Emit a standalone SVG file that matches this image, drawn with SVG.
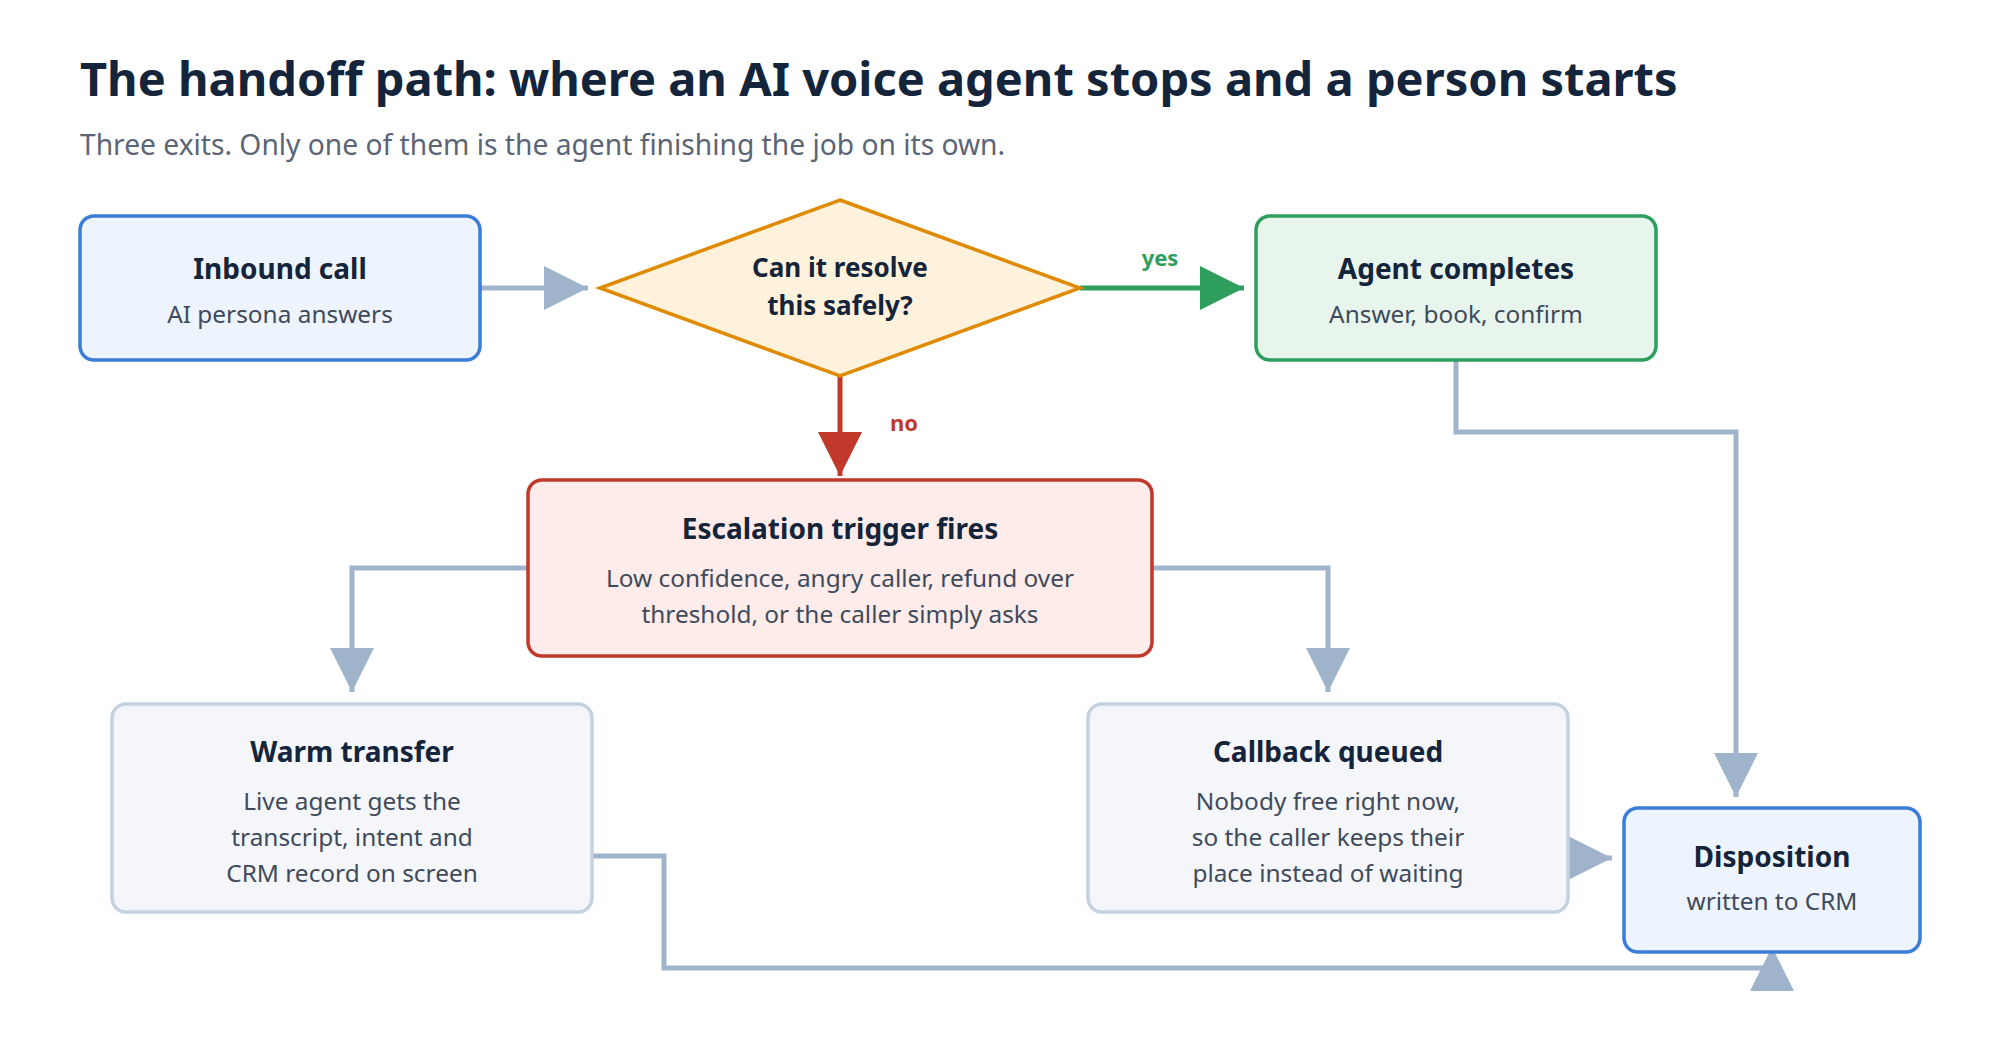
<svg xmlns="http://www.w3.org/2000/svg" width="2000" height="1040" viewBox="0 0 2000 1040">
<defs>
<style>
text{font-family:"Noto Sans","Open Sans","DejaVu Sans",sans-serif}
.h1{font-size:47px;font-weight:700;fill:#13243b}
.sub{font-size:28.2px;fill:#5b6575}
.t{font-size:28px;font-weight:700;fill:#13243b;text-anchor:middle}
.d{font-size:24.4px;fill:#3f4a5b;text-anchor:middle}
.lbl{font-size:22px;font-weight:700;text-anchor:middle}
.blue{fill:#eef4fd;stroke:#3b7dd8;stroke-width:3.5}
.green{fill:#e8f5ec;stroke:#2e9e5e;stroke-width:3.5}
.red{fill:#fdecea;stroke:#c0392b;stroke-width:3.5}
.grey{fill:#f4f6fa;stroke:#c5d1df;stroke-width:3.5}
.c{fill:none;stroke:#9fb3cb;stroke-width:5}
</style>
<marker id="ag" viewBox="0 0 44 44" refX="44" refY="22" markerWidth="44" markerHeight="44" markerUnits="userSpaceOnUse" orient="auto"><path d="M0,0 L44,22 L0,44 z" fill="#9fb3cb"/></marker>
<marker id="agr" viewBox="0 0 44 44" refX="44" refY="22" markerWidth="44" markerHeight="44" markerUnits="userSpaceOnUse" orient="auto"><path d="M0,0 L44,22 L0,44 z" fill="#2e9e5e"/></marker>
<marker id="ar" viewBox="0 0 44 44" refX="44" refY="22" markerWidth="44" markerHeight="44" markerUnits="userSpaceOnUse" orient="auto"><path d="M0,0 L44,22 L0,44 z" fill="#c0392b"/></marker>
</defs>
<rect width="2000" height="1040" fill="#ffffff"/>
<text class="h1" x="80" y="96">The handoff path: where an AI voice agent stops and a person starts</text>
<text class="sub" x="80" y="155">Three exits. Only one of them is the agent finishing the job on its own.</text>

<g id="connectors">
<path class="c" d="M480,288 H588" marker-end="url(#ag)"/>
<path d="M1080,288 H1244" fill="none" stroke="#2e9e5e" stroke-width="5" marker-end="url(#agr)"/>
<path d="M840,376 V476" fill="none" stroke="#c0392b" stroke-width="5" marker-end="url(#ar)"/>
<path class="c" d="M528,568 H352 V692" marker-end="url(#ag)"/>
<path class="c" d="M1152,568 H1328 V692" marker-end="url(#ag)"/>
<path class="c" d="M1456,360 V432 H1736 V797" marker-end="url(#ag)"/>
<path class="c" d="M592,856 H664 V968 H1772 V947" marker-end="url(#ag)"/>
<path class="c" d="M1568,858 H1612" marker-end="url(#ag)"/>
<text class="lbl" x="1160" y="266" fill="#2e9e5e">yes</text>
<text class="lbl" x="904" y="431" fill="#c0392b">no</text>
</g>

<g id="inbound">
<rect class="blue" x="80" y="216" width="400" height="144" rx="14"/>
<text class="t" x="280" y="279">Inbound call</text>
<text class="d" x="280" y="323">AI persona answers</text>
</g>

<g id="decision">
<polygon points="840,200 1080,288 840,376 600,288" fill="#fff2dd" stroke="#e08a00" stroke-width="3.5" stroke-linejoin="miter"/>
<text class="t" x="840" y="277" style="font-size:26px">Can it resolve</text>
<text class="t" x="840" y="315" style="font-size:26px">this safely?</text>
</g>

<g id="agent">
<rect class="green" x="1256" y="216" width="400" height="144" rx="14"/>
<text class="t" x="1456" y="279">Agent completes</text>
<text class="d" x="1456" y="323">Answer, book, confirm</text>
</g>

<g id="escalation">
<rect class="red" x="528" y="480" width="624" height="176" rx="14"/>
<text class="t" x="840" y="539">Escalation trigger fires</text>
<text class="d" x="840" y="587">Low confidence, angry caller, refund over</text>
<text class="d" x="840" y="623">threshold, or the caller simply asks</text>
</g>

<g id="warm">
<rect class="grey" x="112" y="704" width="480" height="208" rx="14"/>
<text class="t" x="352" y="762">Warm transfer</text>
<text class="d" x="352" y="810">Live agent gets the</text>
<text class="d" x="352" y="846">transcript, intent and</text>
<text class="d" x="352" y="882">CRM record on screen</text>
</g>

<g id="callback">
<rect class="grey" x="1088" y="704" width="480" height="208" rx="14"/>
<text class="t" x="1328" y="762">Callback queued</text>
<text class="d" x="1328" y="810">Nobody free right now,</text>
<text class="d" x="1328" y="846">so the caller keeps their</text>
<text class="d" x="1328" y="882">place instead of waiting</text>
</g>

<g id="disposition">
<rect class="blue" x="1624" y="808" width="296" height="144" rx="14"/>
<text class="t" x="1772" y="867">Disposition</text>
<text class="d" x="1772" y="910">written to CRM</text>
</g>
</svg>
